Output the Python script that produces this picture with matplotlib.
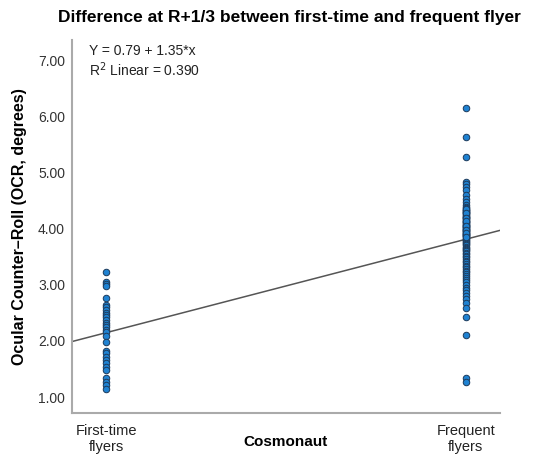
import matplotlib
matplotlib.use("Agg")
import matplotlib.pyplot as plt
import numpy as np

plt.rcParams['font.family'] = ['Liberation Sans', 'DejaVu Sans']

categories = ["First-time\nflyers", "Frequent\nflyers"]
first_time = [3.23, 3.05, 3.01, 2.97, 2.76, 2.64, 2.60, 2.55, 2.50, 2.46,
              2.42, 2.37, 2.32, 2.28, 2.24, 2.19, 2.16, 2.09, 1.98, 1.82,
              1.78, 1.72, 1.66, 1.60, 1.54, 1.48, 1.33, 1.27, 1.21, 1.15]
frequent = [6.14, 5.64, 5.27, 4.83, 4.79, 4.74, 4.68, 4.60, 4.52, 4.47,
            4.42, 4.38, 4.34, 4.30, 4.27, 4.24, 4.21, 4.18, 4.15, 4.12,
            4.10, 4.07, 4.05, 4.02, 4.00, 3.97, 3.95, 3.92, 3.90, 3.88,
            3.86, 3.84, 3.82, 3.80, 3.78, 3.76, 3.74, 3.72, 3.70, 3.68,
            3.66, 3.64, 3.62, 3.60, 3.57, 3.55, 3.52, 3.49, 3.46, 3.43,
            3.40, 3.37, 3.34, 3.31, 3.28, 3.25, 3.22, 3.19, 3.16, 3.12,
            3.08, 3.04, 3.00, 2.95, 2.90, 2.85, 2.80, 2.74, 2.67, 2.58,
            2.42, 2.10, 1.34, 1.27,
            4.36, 4.33, 4.31, 4.29, 4.26, 4.23, 4.20, 4.17, 4.14, 4.11,
            4.08, 4.06, 4.03, 4.01, 3.99, 3.96, 3.94, 3.91, 3.89, 3.87,
            4.35, 4.28, 4.19, 4.13, 4.04, 3.98, 3.93, 3.85]
yticks = [1.0, 2.0, 3.0, 4.0, 5.0, 6.0, 7.0]
equation_text = "Y = 0.79 + 1.35*x\nR$^2$ Linear = 0.390"

fig = plt.figure(figsize=(5.43, 4.59), dpi=100)
ax = fig.add_axes([0.1326, 0.1002, 0.7882, 0.8127])

x1 = np.ones(len(first_time))
x2 = np.full(len(frequent), 2.0)
ax.scatter(x1, first_time, s=22, facecolor='#1f82d2', edgecolor='#1d3b5c', linewidth=0.7, zorder=3)
ax.scatter(x2, frequent, s=22, facecolor='#1f82d2', edgecolor='#1d3b5c', linewidth=0.7, zorder=3)

xall = np.concatenate([x1, x2])
yall = np.concatenate([first_time, frequent])
b, a = np.polyfit(xall, yall, 1)
xl = np.array([0.905, 2.10])
ax.plot(xl, a + b * xl, color='#555555', linewidth=1.1, zorder=2)

ax.set_xlim(0.905, 2.095)
ax.set_ylim(0.715, 7.36)
ax.set_yticks(yticks)
ax.set_yticklabels([f"{v:.2f}" for v in yticks], fontsize=10, color='#333333')
ax.set_xticks([1, 2])
ax.set_xticklabels(categories, fontsize=10.5, color='#222222')
ax.tick_params(axis='both', length=0, pad=5)
ax.tick_params(axis='x', pad=8)

for s in ['top', 'right']:
    ax.spines[s].set_visible(False)
for s in ['left', 'bottom']:
    ax.spines[s].set_color('#aaaaaa')
    ax.spines[s].set_linewidth(1.5)

ax.set_xlabel("Cosmonaut", fontsize=11, fontweight='bold', labelpad=-14)
ax.set_ylabel("Ocular Counter\u2013Roll (OCR, degrees)", fontsize=11.5, fontweight='bold', labelpad=8)
fig.text(0.533, 0.962, "Difference at R+1/3 between first-time and frequent flyer",
         ha='center', va='center', fontsize=12.5, fontweight='bold')
ax.text(0.04, 0.99, equation_text, transform=ax.transAxes, ha='left', va='top',
        fontsize=10, color='#222222', linespacing=1.15)

fig.savefig("out.png", dpi=100)
